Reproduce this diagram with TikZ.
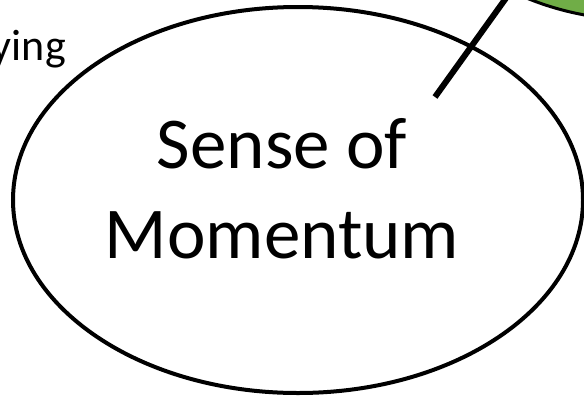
\documentclass[tikz,border=0pt]{standalone}
\usepackage{fontspec}
\setmainfont{Carlito}
\usetikzlibrary{shapes.geometric}
\definecolor{officegreen}{HTML}{70AD47}
\tikzset{
  bigtext/.style={font=\fontsize{73}{89}\selectfont, inner sep=0pt, anchor=base},
  smalltext/.style={font=\fontsize{44}{54}\selectfont, inner sep=0pt, anchor=base east},
  bubble/.style={ellipse, draw=black, line width=4pt, inner sep=0pt},
  greenbubble/.style={ellipse, draw=black, fill=officegreen, line width=3pt, inner sep=0pt},
  link/.style={draw=black, line width=6pt}
}
\begin{document}
\begin{tikzpicture}[x=1pt,y=-1pt]
\useasboundingbox (0,0) rectangle (584,397);
\clip (0,0) rectangle (584,397);
\node[greenbubble, minimum width=520pt, minimum height=440pt] (g) at (640,-200) {};
\node[bubble, minimum width=570pt, minimum height=386pt] (e) at (298,200) {};
\node[bigtext] (t1) at (282,168) {Sense of};
\node[bigtext] (t2) at (282,258) {Momentum};
\node[smalltext] (s) at (66,60) {ying};
\coordinate (lstart) at (435,97);
\coordinate (lend) at (519,-20);
\draw[link] (lstart) -- (lend);
\end{tikzpicture}
\end{document}
